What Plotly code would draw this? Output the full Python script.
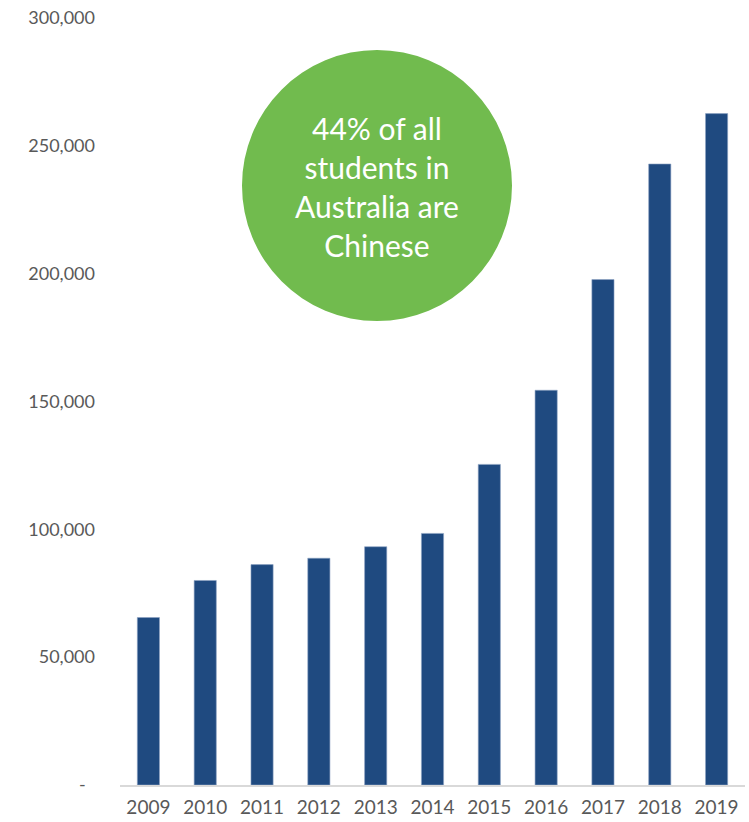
import plotly.graph_objects as go

# Chinese students enrolled in Australia, by year
years = ["2009", "2010", "2011", "2012", "2013", "2014",
         "2015", "2016", "2017", "2018", "2019"]
students = [65500, 80000, 86200, 88700, 93200, 98400,
            125400, 154400, 197700, 242900, 262600]

y_tick_vals = [0, 50000, 100000, 150000, 200000, 250000, 300000]
y_tick_text = ["-\u00a0\u00a0", "50,000", "100,000", "150,000",
               "200,000", "250,000", "300,000"]

callout_lines = ["44% of all", "students in", "Australia are", "Chinese"]

W, H = 749, 822
ML, MR, MT, MB = 120, 4, 18, 37
plot_w = W - ML - MR
plot_h = H - MT - MB

BAR_COLOR = "#1F4A80"
TEXT_GREY = "#595959"
FONT = "Lato, 'Open Sans', sans-serif"


def px_x(px):
    return (px - ML) / plot_w


def px_y(py):
    return (H - MB - py) / plot_h


fig = go.Figure()
fig.add_trace(go.Bar(
    x=years,
    y=students,
    marker=dict(color=BAR_COLOR, line=dict(color="#8DA2C2", width=0.6)),
    hoverinfo="x+y",
))

# Green callout circle with its message
fig.add_shape(
    type="circle", xref="paper", yref="paper",
    x0=px_x(242), x1=px_x(512), y0=px_y(321), y1=px_y(50),
    fillcolor="#71BB4E", line=dict(width=0), layer="above",
)
fig.add_annotation(
    xref="paper", yref="paper",
    x=px_x(377), y=px_y(187),
    xanchor="center", yanchor="middle",
    text="<br>".join(callout_lines),
    showarrow=False,
    align="center",
    font=dict(family=FONT, size=30, color="white"),
)

fig.update_layout(
    width=W, height=H,
    margin=dict(l=ML, r=MR, t=MT, b=MB),
    paper_bgcolor="white",
    plot_bgcolor="white",
    showlegend=False,
    bargap=0.61,
    font=dict(family=FONT, color=TEXT_GREY, size=18),
)
fig.update_xaxes(
    showline=True, linecolor="#D9D9D9", linewidth=1.5,
    showgrid=False, ticks="", ticklabelstandoff=4,
    tickfont=dict(size=19, color=TEXT_GREY),
)
fig.update_yaxes(
    range=[0, 300000],
    tickvals=y_tick_vals, ticktext=y_tick_text,
    showgrid=False, showline=False, zeroline=False,
    ticks="", ticklabelstandoff=24,
    tickfont=dict(size=18, color=TEXT_GREY),
)

fig.write_html("out.html")
